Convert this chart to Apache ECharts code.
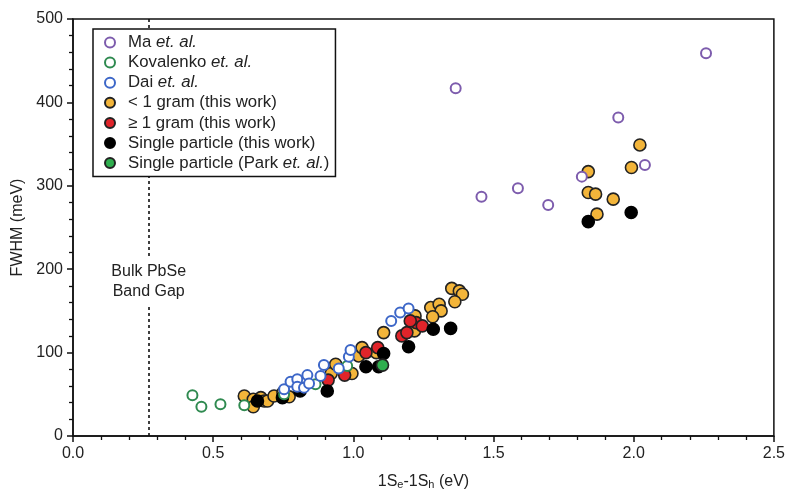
<!DOCTYPE html>
<html>
<head>
<meta charset="utf-8">
<script src="https://cdn.jsdelivr.net/npm/echarts@6/dist/echarts.min.js"></script>
<style>
html,body{margin:0;padding:0;background:#fff;}
#main{width:788px;height:495px;}
</style>
</head>
<body>
<div id="main"></div>
<script>
// ---- data (x: 1Se-1Sh in eV, y: FWHM in meV) ----
var maData = [[1.365,417],[1.457,287],[1.587,297],[1.695,277],[1.815,311],[1.945,382],[2.040,325],[2.258,459]];
var kovalenkoData = [[0.426,49],[0.458,35],[0.526,38],[0.611,37],[0.753,50],[0.865,62],[0.978,84]];
var daiData = [[0.753,56],[0.776,65],[0.800,68],[0.800,59],[0.824,58],[0.836,73],[0.842,63],[0.883,72],
  [0.895,85],[0.948,81],[0.984,95],[0.990,103],[1.135,138],[1.167,148],[1.197,153]];
var lessGramData = [[0.611,48],[0.643,44],[0.643,35],[0.670,46],[0.682,42],[0.694,42],[0.717,48],[0.749,52],
  [0.771,47],[0.806,58],[0.921,75],[0.937,86],[0.995,75],[1.019,96],[1.031,106],[1.082,100],[1.108,124],
  [1.220,144],[1.218,126],[1.276,154],[1.306,158],[1.313,150],[1.283,143],[1.351,177],[1.378,174],
  [1.389,170],[1.362,161],[1.838,317],[2.022,349],[1.992,322],[1.838,292],[1.864,290],[1.927,284],[1.869,266]];
var moreGramData = [[0.910,67],[0.969,73],[1.045,100],[1.087,106],[1.173,120],[1.191,124],[1.224,136],[1.246,132],[1.203,138]];
var singleThisData = [[0.658,42],[0.747,46],[0.810,54],[0.907,54],[1.045,83],[1.090,83],[1.108,99],
  [1.197,107],[1.285,128],[1.347,129],[1.838,257],[1.991,268]];
var singleParkData = [[1.104,85]];

var seriesNames = ['Ma et. al.','Kovalenko et. al.','Dai et. al.','< 1 gram (this work)','≥ 1 gram (this work)','Single particle (this work)','Single particle (Park et. al.)'];
var legendRich = {
  'Ma et. al.': '{n|Ma }{i|et. al.}',
  'Kovalenko et. al.': '{n|Kovalenko }{i|et. al.}',
  'Dai et. al.': '{n|Dai }{i|et. al.}',
  'Single particle (Park et. al.)': '{n|Single particle (Park }{i|et. al.}{n|)}'
};
var xTickLabels = ['0.0','0.5','1.0','1.5','2.0','2.5'];
var yTickLabels = ['0','100','200','300','400','500'];
var bandGapX = 0.27;
var bandGapLabelY = 185;
var bandGapText = 'Bulk PbSe\nBand Gap';

var FONT = '"Liberation Sans", Arial, Helvetica, sans-serif';

function openSeries(name, data, color) {
  return {
    name: name, type: 'scatter', data: data, z: 4,
    symbol: 'circle', symbolSize: 10,
    itemStyle: { color: '#ffffff', borderColor: color, borderWidth: 2, opacity: 1 },
    emphasis: { disabled: true }
  };
}
function filledSeries(name, data, color, border) {
  return {
    name: name, type: 'scatter', data: data, z: 3,
    symbol: 'circle', symbolSize: 12,
    itemStyle: { color: color, borderColor: border, borderWidth: 1.6, opacity: 1 },
    emphasis: { disabled: true }
  };
}

var series = [
  openSeries(seriesNames[0], maData, '#7d5cad'),
  openSeries(seriesNames[1], kovalenkoData, '#2f8a50'),
  openSeries(seriesNames[2], daiData, '#3d67c8'),
  filledSeries(seriesNames[3], lessGramData, '#f3b53a', '#222'),
  filledSeries(seriesNames[4], moreGramData, '#e0242a', '#222'),
  filledSeries(seriesNames[5], singleThisData, '#000000', '#000'),
  filledSeries(seriesNames[6], singleParkData, '#2fae4e', '#222')
];
// band-gap reference line and its label, attached to first series
series[0].markLine = {
  silent: true, symbol: ['none','none'], z: 1,
  lineStyle: { color: '#111', width: 1.6, type: [3,3] },
  label: { show: false },
  data: [{ xAxis: bandGapX }]
};
series[0].markPoint = {
  silent: true, symbol: 'rect', symbolSize: 0, z: 2,
  label: {
    show: true, position: 'inside', formatter: bandGapText,
    color: '#222', fontSize: 16, lineHeight: 20, fontFamily: FONT,
    backgroundColor: '#fff', padding: [5, 3, 5, 3], align: 'center', verticalAlign: 'middle'
  },
  data: [{ coord: [bandGapX, bandGapLabelY] }]
};

var chart = echarts.init(document.getElementById('main'), null, { renderer: 'canvas' });
chart.setOption({
  animation: false,
  backgroundColor: '#fff',
  textStyle: { fontFamily: FONT },
  grid: { left: 73, right: 11, top: 19, bottom: 51, show: true, borderColor: '#111', borderWidth: 1.5, backgroundColor: 'transparent', z: 5 },
  legend: {
    orient: 'vertical', left: 93, top: 29,
    data: seriesNames,
    backgroundColor: '#fff', borderColor: '#111', borderWidth: 1.5, borderRadius: 0,
    padding: [5, 6, 5, 11],
    itemWidth: 26, itemHeight: 10, itemGap: 3.1,
    selectedMode: false,
    formatter: function (name) { return legendRich[name] || ('{n|' + name + '}'); },
    textStyle: {
      color: '#222', fontSize: 17, fontFamily: FONT, lineHeight: 16,
      rich: {
        n: { fontSize: 16.8, color: '#222', fontFamily: FONT, lineHeight: 16 },
        i: { fontSize: 16.8, color: '#222', fontFamily: FONT, fontStyle: 'italic', lineHeight: 16 }
      }
    },
    z: 10
  },
  xAxis: {
    type: 'value', min: 0, max: 2.5, interval: 0.5,
    name: '{a|1S}{s|e}{a|-1S}{s|h}{a| (eV)}',
    nameLocation: 'middle', nameGap: 34,
    nameTextStyle: {
      rich: {
        a: { fontSize: 16, color: '#222', fontFamily: FONT, lineHeight: 20, verticalAlign: 'bottom' },
        s: { fontSize: 11, color: '#222', fontFamily: FONT, lineHeight: 10, verticalAlign: 'bottom' }
      }
    },
    axisLine: { show: true, onZero: false, lineStyle: { color: '#111', width: 1.5 } },
    axisTick: { show: true, inside: false, length: 6, lineStyle: { color: '#111', width: 1.5 } },
    minorTick: { show: true, splitNumber: 5, length: 4, lineStyle: { color: '#111', width: 1.3 } },
    splitLine: { show: false },
    axisLabel: {
      color: '#222', fontSize: 16, fontFamily: FONT, margin: 10,
      formatter: function (v) { return xTickLabels[Math.round(v / 0.5)]; }
    }
  },
  yAxis: {
    type: 'value', min: 0, max: 500, interval: 100,
    name: 'FWHM (meV)', nameLocation: 'middle', nameGap: 42,
    nameTextStyle: { color: '#222', fontSize: 16, fontFamily: FONT },
    axisLine: { show: true, onZero: false, lineStyle: { color: '#111', width: 1.5 } },
    axisTick: { show: true, inside: false, length: 6, lineStyle: { color: '#111', width: 1.5 } },
    minorTick: { show: true, splitNumber: 5, length: 4, lineStyle: { color: '#111', width: 1.3 } },
    splitLine: { show: false },
    axisLabel: {
      color: '#222', fontSize: 16, fontFamily: FONT, margin: 10,
      formatter: function (v) { return yTickLabels[Math.round(v / 100)]; }
    }
  },
  series: series
});
</script>
</body>
</html>
